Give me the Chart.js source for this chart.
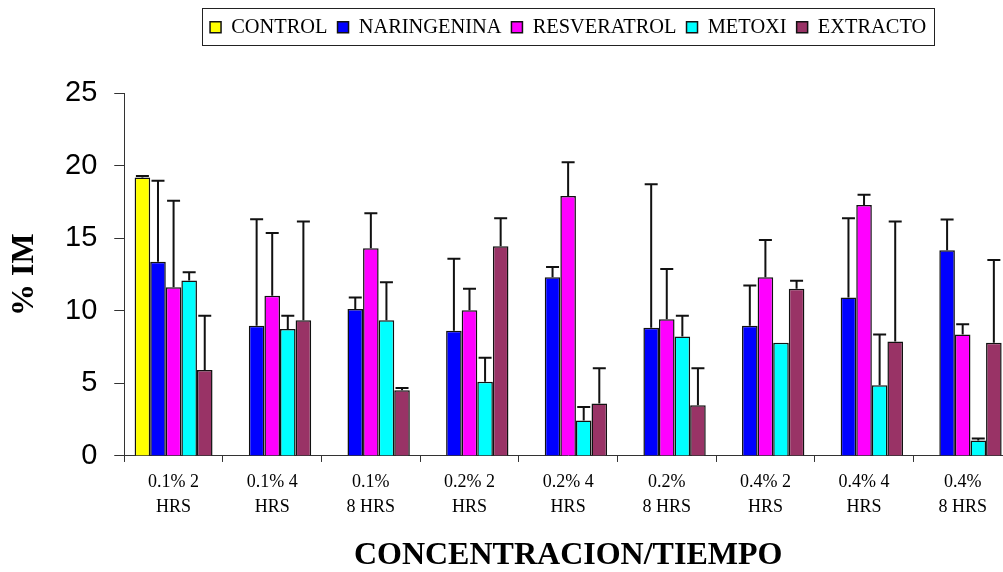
<!DOCTYPE html>
<html>
<head>
<meta charset="utf-8">
<script src="https://cdn.jsdelivr.net/npm/chart.js@4/dist/chart.umd.min.js"></script>
<style>
  html, body { margin: 0; padding: 0; background: #fff; overflow: hidden; }
  #wrap { width: 1012px; height: 572px; }
</style>
</head>
<body>
<div id="wrap"><canvas id="chart"></canvas></div>
<script>
// categories (concentration / time)
const categories = [
  ["0.1% 2", "HRS"], ["0.1% 4", "HRS"], ["0.1%", "8 HRS"],
  ["0.2% 2", "HRS"], ["0.2% 4", "HRS"], ["0.2%", "8 HRS"],
  ["0.4% 2", "HRS"], ["0.4% 4", "HRS"], ["0.4%", "8 HRS"]
];

// mean % IM per series
const control     = [19.2, null, null, null, null, null, null, null, null];
const naringenina = [13.4, 8.98, 10.13, 8.63, 12.32, 8.84, 8.98, 10.93, 14.18];
const resveratrol = [11.63, 11.05, 14.32, 10.04, 17.93, 9.42, 12.32, 17.31, 8.38];
const metoxi      = [12.1, 8.75, 9.35, 5.11, 2.44, 8.24, 7.8, 4.88, 1.06];
const extracto    = [5.92, 9.35, 4.53, 14.46, 3.61, 3.5, 11.53, 7.9, 7.8];

// upper error (sd) per series
const controlErr     = [0.1, 0, 0, 0, 0, 0, 0, 0, 0];
const naringeninaErr = [5.57, 7.34, 0.8, 4.97, 0.71, 9.9, 2.78, 5.46, 2.12];
const resveratrolErr = [5.96, 4.33, 2.41, 1.49, 2.33, 3.47, 2.57, 0.71, 0.71];
const metoxiErr      = [0.56, 0.92, 2.62, 1.66, 0.94, 1.43, 0, 3.5, 0.14];
const extractoErr    = [3.75, 6.81, 0.16, 1.93, 2.44, 2.55, 0.56, 8.26, 5.71];

const yTicks = [0, 5, 10, 15, 20, 25];

const SERIF = "'Liberation Serif', 'Times New Roman', serif";
const SANS = "'Liberation Sans', Arial, sans-serif";

// one-sided (upper) error bars with a cap
const errorBars = {
  id: "errorBars",
  afterDatasetsDraw(chart) {
    const { ctx } = chart;
    const y = chart.scales.y;
    ctx.save();
    ctx.strokeStyle = "#111";
    ctx.lineWidth = 2;
    chart.data.datasets.forEach((ds, i) => {
      const meta = chart.getDatasetMeta(i);
      ds.errors.forEach((e, j) => {
        const v = ds.data[j];
        if (v == null || !e) return;
        const bar = meta.data[j];
        const top = y.getPixelForValue(v + e);
        ctx.beginPath();
        ctx.moveTo(bar.x, bar.y);
        ctx.lineTo(bar.x, top);
        ctx.moveTo(bar.x - 6.5, top);
        ctx.lineTo(bar.x + 6.5, top);
        ctx.stroke();
      });
    });
    ctx.restore();
  },
};

// center legend over the plot and put a frame round it
const legendFrame = {
  id: "legendFrame",
  afterLayout(chart) {
    const lg = chart.legend;
    const h = lg.bottom - lg.top;
    lg.left = chart.chartArea.left;
    lg.right = chart.chartArea.right;
    lg.top = 7;
    lg.bottom = 7 + h;
  },
  afterDraw(chart) {
    const { ctx } = chart;
    const lg = chart.legend;
    const pad = lg.options.labels.padding;
    const lw = lg.lineWidths[0];
    const x0 = (lg.left + pad + lg.right - lw) / 2;
    ctx.save();
    ctx.strokeStyle = "#222";
    ctx.lineWidth = 1;
    ctx.strokeRect(Math.round(x0 - 8) + 0.5, lg.top + 1.5, Math.round(lw - pad + 16), 37);
    ctx.restore();
  },
};

const mkSet = (label, data, errors, color) => ({
  label: label,
  data: data,
  errors: errors,
  backgroundColor: color,
  borderColor: "#111",
  borderWidth: 1.5,
  categoryPercentage: 0.79,
  barPercentage: 1.0,
});

new Chart(document.getElementById("chart"), {
  type: "bar",
  data: {
    labels: categories,
    datasets: [
      mkSet("CONTROL", control, controlErr, "#FFFF00"),
      mkSet("NARINGENINA", naringenina, naringeninaErr, "#0000FF"),
      mkSet("RESVERATROL", resveratrol, resveratrolErr, "#FF00FF"),
      mkSet("METOXI", metoxi, metoxiErr, "#00FFFF"),
      mkSet("EXTRACTO", extracto, extractoErr, "#993366"),
    ],
  },
  options: {
    responsive: true,
    maintainAspectRatio: false,
    animation: false,
    layout: { padding: { top: 53, left: 0, right: 0, bottom: 0 } },
    plugins: {
      tooltip: { enabled: false },
      legend: {
        position: "top",
        labels: {
          color: "#000",
          font: { family: SERIF, size: 20.4 },
          boxWidth: 11,
          boxHeight: 11,
          padding: 10,
        },
      },
    },
    scales: {
      x: {
        grid: { drawOnChartArea: false, tickLength: 6, color: "#333", offset: true },
        border: { color: "#333", width: 1 },
        ticks: {
          color: "#000",
          font: { family: SERIF, size: 18, lineHeight: 1.39 },
          padding: 8,
          maxRotation: 0,
          autoSkip: false,
        },
        title: {
          display: true,
          text: "CONCENTRACION/TIEMPO",
          color: "#000",
          font: { family: SERIF, size: 32, weight: "bold", lineHeight: 1 },
          padding: { top: 12, bottom: 0 },
        },
      },
      y: {
        min: 0,
        max: 25,
        afterBuildTicks: (axis) => {
          axis.ticks = yTicks.map((v) => ({ value: v }));
        },
        grid: { drawOnChartArea: false, tickLength: 10, color: "#333" },
        border: { color: "#333", width: 1 },
        ticks: {
          color: "#000",
          font: { family: SANS, size: 29 },
          padding: 17,
        },
        title: {
          display: true,
          text: "% IM",
          color: "#000",
          font: { family: SERIF, size: 32, weight: "bold", lineHeight: 1 },
          padding: { top: 9, bottom: 7 },
        },
      },
    },
  },
  plugins: [errorBars, legendFrame],
});
</script>
</body>
</html>
